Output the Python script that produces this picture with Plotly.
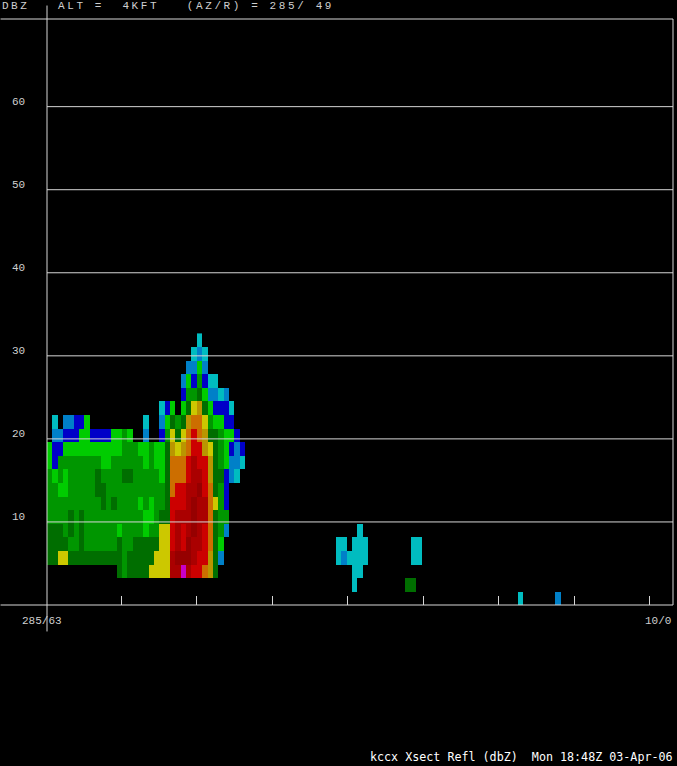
import plotly.graph_objects as go

# Reflectivity cross-section, one string per radar row, top row first.
# Each character is a colour class for one range column.
rows_near = [
    "." * 28 + "a",
    "." * 27 + "aba",
    "." * 26 + "bbdb",
    "." * 25 + "bdcecaa",
    "." * 25 + "ceefdbbab",
    "." * 21 + "acd.dfghfdccca",
    ".a.bbccd" + "." * 10 + "a.." + "bdfefhiigeddcc",
    ".bbcccddccccdded" + "..b.." + "cegfgijihffeddc",
    "dcc" + "d" * 11 + "eee" + "dd" + "e" + "dd" + "fhghijjhgfedcbc",
    "dc" + "e" * 8 + "dd" + "e" * 6 + "d" + "e" + "dd" + "fiiijkjjhfedbba",
    "eded" + "e" * 5 + "f" + "e" * 4 + "ff" + "e" * 5 + "d" + "fiiijkkjhffcba",
    "eedd" + "e" * 5 + "ff" + "e" * 11 + "fijjkkKjifec",
    "e" * 10 + "fef" + "eeee" + "ded" + "ee" + "fjjjkKkkigec",
    "eeee" + "fef" + "e" * 11 + "dd" + "e" + "ff" + "jkkkKkkifee",
    "fff" + "efef" + "e" * 6 + "d" + "eeee" + "d" + "ee" + "gg" + "jkjkKkjifeb",
    "ffff" + "ee" + "f" + "e" * 6 + "f" + "ee" + "f" * 5 + "gg" + "jkjKkkjifd",
    "ffgg" + "f" * 10 + "e" + "f" * 5 + "ggg" + "kKKKkjjhfb",
    "." * 13 + "fe" + "ffff" + "gggg" + "kkmkjjihf",
    "",
    "",
]
rows_far = [
    "", "", "", "", "", "", "", "", "", "", "", "", "", "",
    "....a",
    "aa.aaa" + "." * 8 + "aa",
    "abaaaa" + "." * 8 + "aa",
    "...aa",
    "...a" + "." * 9 + "ff",
    "." * 34 + "a......b",
]
class_codes = ".abcdefghijkKm"
class_colors = [
    "#000000", "#00BCC0", "#0080C8", "#0000C8", "#00CC00", "#009600", "#006E00",
    "#CCC800", "#B99600", "#CC6E00", "#CC0000", "#AA0000", "#960000", "#C800C8",
]

dbz_levels = [10, 20, 30, 40, 50, 60]
x_tick_columns = [13.995, 27.99, 42.17, 56.17, 70.35, 84.35, 98.53, 112.52]
header_text = "ALT =  4KFT   (AZ/R) = 285/ 49"
footer_text = "kccx Xsect Refl (dbZ)  Mon 18:48Z 03-Apr-06"
start_label = "285/63"
end_label = "10/0"

N_COLS = 117
ROW_HEIGHT = 1.635
LINE = "#D6D6D6"
L, R, T, B = 46.5, 673.5, 18.5, 605.5


def px(x):
    return (x - L) / (R - L)


def py(y):
    return (B - y) / (B - T)


z = []
for near, far in zip(reversed(rows_near), reversed(rows_far)):
    row = near.ljust(54, ".") + far
    row = row.ljust(N_COLS, ".")
    z.append([None if c == "." else class_codes.index(c) for c in row])

n = len(class_colors) - 1
scale = []
for i, col in enumerate(class_colors):
    scale.append([i / (n + 1), col])
    scale.append([(i + 1) / (n + 1), col])

fig = go.Figure(
    go.Heatmap(
        z=z, x0=0.5, dx=1, y0=ROW_HEIGHT / 2, dy=ROW_HEIGHT,
        colorscale=scale, zmin=-0.5, zmax=n + 0.5,
        showscale=False, hoverinfo="skip", xgap=0, ygap=0,
    )
)

shapes = []
for lv in dbz_levels:
    shapes.append(dict(type="line", xref="paper", yref="y", x0=0, x1=1, y0=lv, y1=lv,
                       line=dict(color=LINE, width=1)))
frame = [
    (px(0), py(T), 1, py(T)),
    (px(0), py(B), 1, py(B)),
    (0, py(5), 0, py(632)),
    (1, py(T), 1, py(B)),
]
for x0, y0, x1, y1 in frame:
    shapes.append(dict(type="line", xref="paper", yref="paper", x0=x0, y0=y0, x1=x1, y1=y1,
                       line=dict(color=LINE, width=1)))

STROKE = "Liberation Mono"


def spaced(s, gap):
    return f'<span style="letter-spacing:{gap}px">{s}</span>'


def label(text, x, y, size=11, color="#CFCFCF", family=STROKE, anchor="left"):
    return dict(text=text, xref="paper", yref="paper", x=px(x), y=py(y),
                xanchor=anchor, yanchor="middle", showarrow=False,
                font=dict(family=family, size=size, color=color),
                borderpad=0, borderwidth=0)


annotations = [
    label(spaced("DBZ", 2.5), 1, 5),
    label(spaced(header_text, 2.6), 58, 5),
    label(start_label, 21.5, 622, size=11),
    label(end_label, 645, 622, size=11),
    label(footer_text, 370, 758, size=11.7, color="#FFFFFF", family="DejaVu Sans Mono"),
]
for lv in dbz_levels:
    annotations.append(dict(text=str(lv), xref="paper", yref="y", x=px(9.5), y=lv, yshift=4.5,
                            xanchor="left", yanchor="middle", showarrow=False,
                            font=dict(family=STROKE, size=11, color="#CFCFCF")))

fig.update_layout(
    width=677, height=766, autosize=False,
    margin=dict(l=L, r=677 - R, t=T, b=766 - B, pad=0),
    paper_bgcolor="#000000", plot_bgcolor="#000000",
    showlegend=False, shapes=shapes, annotations=annotations,
    xaxis=dict(range=[0, N_COLS], showgrid=False, zeroline=False,
               tickmode="array", tickvals=x_tick_columns, ticktext=[""] * len(x_tick_columns),
               ticks="inside", ticklen=9, tickwidth=1, tickcolor=LINE,
               showline=False),
    yaxis=dict(range=[0, 70.553], showgrid=False, zeroline=False, showticklabels=False,
               ticks="", showline=False),
)
fig.write_html(
    "out.html",
    config=dict(displayModeBar=False),
    post_script="document.documentElement.style.background='#000';"
                "document.documentElement.style.overflow='hidden';"
                "document.body.style.margin='0';document.body.style.background='#000';",
)
